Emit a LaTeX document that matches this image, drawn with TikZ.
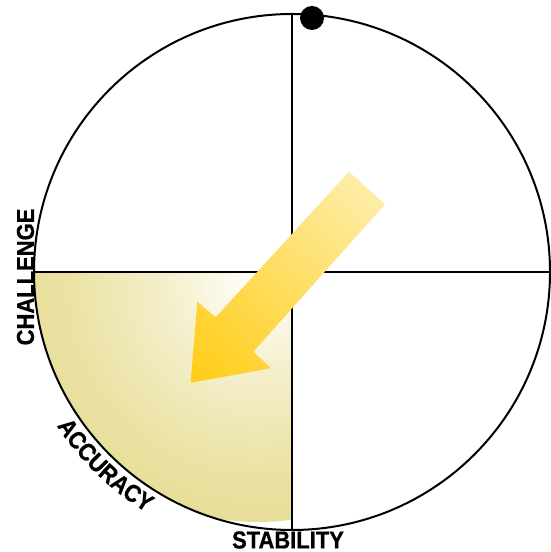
\documentclass[tikz,border=0pt]{standalone}
\usepackage{fontspec}
\setmainfont{Liberation Sans}
\newfontfamily\lblfamily[FakeStretch=0.9, FakeBold=0.8]{Liberation Sans Bold}
\usetikzlibrary{decorations.text}
\definecolor{khaki}{RGB}{231,222,152}
\definecolor{khakiA}{RGB}{252,250,238}
\definecolor{khakiB}{RGB}{244,239,204}
\definecolor{khakiC}{RGB}{235,227,166}
\definecolor{arrowtail}{RGB}{254,237,168}
\definecolor{arrowtip}{RGB}{255,204,20}
\pgfdeclareradialshading{quadshade}{\pgfpoint{0bp}{0bp}}{color(0bp)=(white); color(3bp)=(khakiA); color(9.5bp)=(khakiB); color(19bp)=(khakiC); color(25bp)=(khaki); color(50bp)=(khaki)}
\pgfdeclareverticalshading{arrowshade}{100bp}{color(0bp)=(arrowtip); color(25bp)=(arrowtip); color(75bp)=(arrowtail); color(100bp)=(arrowtail)}
\newcommand\lblfont{\lblfamily\fontsize{24.5}{29}\selectfont}
\tikzset{
  rule/.style={draw=black, line width=2bp},
  lbl/.style={font=\lblfont, inner sep=0pt},
  knob/.style={circle, fill=black, minimum size=24bp, inner sep=0pt}
}
\begin{document}
\begin{tikzpicture}[x=1bp,y=1bp]
\useasboundingbox (0,0) rectangle (551,552);
\fill[white] (0,0) rectangle (551,552);
\coordinate (O) at (292,280);
\path (O) ++(90:258) coordinate (N);
\path (O) ++(270:258) coordinate (S);
\path (O) ++(180:258) coordinate (W);
\path (O) ++(0:258) coordinate (E);
% shaded quadrant
\begin{scope}
  \clip (O) -- (W) arc[start angle=180,end angle=270,radius=258] -- cycle;
  \shade[shading=quadshade] (258,270) circle[radius=240];
\end{scope}
% cross and rim
\draw[rule] (N) -- (S);
\draw[rule] (W) -- (E);
\draw[rule] (O) circle[radius=258];
% arrow
\coordinate (t1) at (349,380.3);
\coordinate (t2) at (385,347.7);
\coordinate (s2) at (253.3,200.3);
\coordinate (b2) at (271,183.7);
\coordinate (tip) at (190.7,169.3);
\coordinate (b1) at (197.3,250.3);
\coordinate (s1) at (215.7,234.7);
\begin{scope}
  \clip (t1) -- (t2) -- (s2) -- (b2) -- (tip) -- (b1) -- (s1) -- cycle;
  \begin{scope}[transform canvas={shift={(190.7,169.3)}, rotate=-42.2}]
    \shade[shading=arrowshade] (-120,0) rectangle (120,264);
  \end{scope}
\end{scope}
% knob
\node[knob] (dot) at (312,534) {};
% labels
\node[lbl, rotate=90] (challenge) at (25.5,275) {CHALLENGE};
\node[lbl] (stability) at (288,12) {STABILITY};
\path (O) ++(196:281) coordinate (accstart);
\path[decorate, decoration={text along path, text={|\lblfont|ACCURACY}, text align=center}]
  (accstart) arc[start angle=196,end angle=256,radius=281];
\end{tikzpicture}
\end{document}
